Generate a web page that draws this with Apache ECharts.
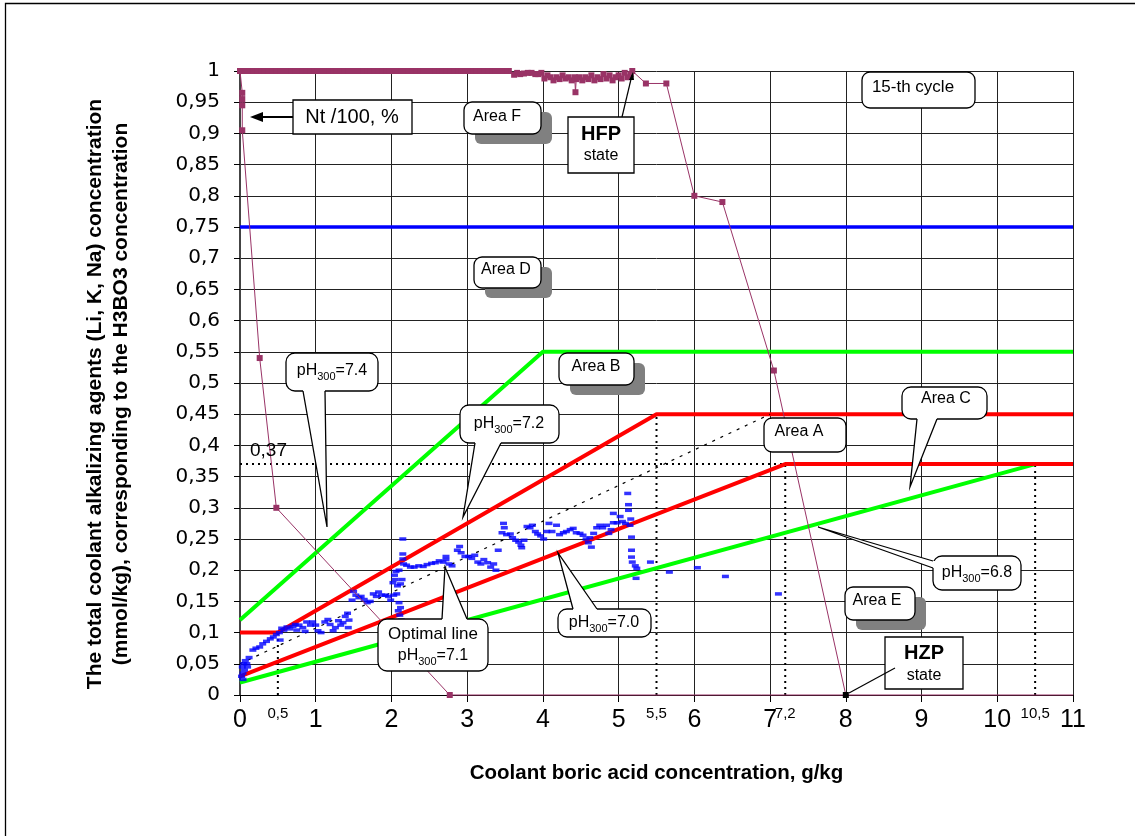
<!DOCTYPE html>
<html><head><meta charset="utf-8">
<script src="https://cdn.jsdelivr.net/npm/echarts@6/dist/echarts.min.js"></script>
<style>html,body{margin:0;padding:0;background:#fff}#c{width:1135px;height:836px}</style>
</head><body><div id="c"></div>
<script>
// ---------- data ----------
const extraXTicks = [0.5, 5.5, 7.2, 10.5];
const ph74 = [[0, 0.12], [4, 0.55], [11, 0.55]];
const ph72 = [[0, 0.10], [0.5, 0.10], [5.5, 0.45], [11, 0.45]];
const ph70 = [[0, 0.03], [7.2, 0.37], [11, 0.37]];
const ph68 = [[0, 0.02], [10.5, 0.37]];
const optimal71 = [[0, 0.05], [7, 0.45]];
const limit075 = [[0, 0.75], [11, 0.75]];
const guide037 = [[0, 0.37], [10.5, 0.37]];
const guideX05 = [[0.5, 0], [0.5, 0.10]];
const guideX55 = [[5.5, 0], [5.5, 0.45]];
const guideX72 = [[7.2, 0], [7.2, 0.37]];
const guideX105 = [[10.5, 0], [10.5, 0.37]];

const ntPower = [
  [8, 0], [7.05, 0.52], [6.37, 0.79], [6.0, 0.80], [5.63, 0.98], [5.36, 0.98], [5.18, 1.0],
  [5.16, 0.995], [5.12, 0.99], [5.08, 0.997], [5.04, 0.988], [5.0, 0.993], [4.96, 0.99], [4.92, 0.985],
  [4.88, 0.993], [4.84, 0.988], [4.8, 0.995], [4.76, 0.987], [4.72, 0.99], [4.68, 0.985], [4.64, 0.993],
  [4.6, 0.987], [4.56, 0.99], [4.52, 0.985], [4.48, 0.99], [4.44, 0.987], [4.43, 0.966], [4.42, 0.99],
  [4.38, 0.985], [4.34, 0.99], [4.3, 0.988], [4.26, 0.993], [4.22, 0.987], [4.18, 0.99], [4.14, 0.985],
  [4.1, 0.99], [4.06, 0.993], [4.02, 0.988], [3.98, 0.997], [3.94, 0.995], [3.9, 0.995], [3.85, 0.997],
  [3.8, 0.997], [3.75, 0.996], [3.7, 0.995], [3.66, 0.997], [3.62, 0.994], [3.55, 1.0], [3.5, 1.0],
  [3.45, 1.0], [3.4, 1.0], [3.35, 1.0], [3.3, 1.0], [3.25, 1.0], [3.2, 1.0], [3.15, 1.0], [3.1, 1.0],
  [3.05, 1.0], [3.0, 1.0], [2.95, 1.0], [2.9, 1.0], [2.85, 1.0], [2.8, 1.0], [2.75, 1.0], [2.7, 1.0],
  [2.65, 1.0], [2.6, 1.0], [2.55, 1.0], [2.5, 1.0], [2.45, 1.0], [2.4, 1.0], [2.35, 1.0], [2.3, 1.0],
  [2.25, 1.0], [2.2, 1.0], [2.15, 1.0], [2.1, 1.0], [2.05, 1.0], [2.0, 1.0], [1.95, 1.0], [1.9, 1.0],
  [1.85, 1.0], [1.8, 1.0], [1.75, 1.0], [1.7, 1.0], [1.65, 1.0], [1.6, 1.0], [1.55, 1.0], [1.5, 1.0],
  [1.45, 1.0], [1.4, 1.0], [1.35, 1.0], [1.3, 1.0], [1.25, 1.0], [1.2, 1.0], [1.15, 1.0], [1.1, 1.0],
  [1.05, 1.0], [1.0, 1.0], [0.95, 1.0], [0.9, 1.0], [0.85, 1.0], [0.8, 1.0], [0.75, 1.0], [0.7, 1.0],
  [0.65, 1.0], [0.6, 1.0], [0.55, 1.0], [0.5, 1.0], [0.45, 1.0], [0.4, 1.0], [0.35, 1.0], [0.3, 1.0],
  [0.25, 1.0], [0.2, 1.0], [0.15, 1.0], [0.1, 1.0], [0.05, 1.0], [0.0, 1.0], [0.03, 0.965], [0.03, 0.955],
  [0.03, 0.945], [0.03, 0.905], [0.26, 0.54], [0.48, 0.30], [2.77, 0], [11, 0]
];

const measured = [
  [0.02, 0.03], [0.03, 0.045], [0.04, 0.035], [0.05, 0.05], [0.06, 0.04], [0.07, 0.055], [0.09, 0.05],
  [0.10, 0.045], [0.12, 0.06], [0.04, 0.025],
  [0.17, 0.072], [0.21, 0.075], [0.26, 0.077], [0.30, 0.082], [0.35, 0.086], [0.40, 0.09], [0.44, 0.093],
  [0.48, 0.097], [0.52, 0.10], [0.53, 0.088], [0.55, 0.107], [0.58, 0.104], [0.62, 0.109], [0.66, 0.106],
  [0.70, 0.11], [0.73, 0.113], [0.75, 0.104], [0.78, 0.112], [0.83, 0.108], [0.86, 0.102], [0.88, 0.117],
  [0.93, 0.112], [0.96, 0.117], [1.0, 0.112], [1.03, 0.103], [1.07, 0.1],
  [1.12, 0.117], [1.16, 0.121], [1.19, 0.113], [1.23, 0.103], [1.26, 0.108], [1.30, 0.119], [1.33, 0.112],
  [1.36, 0.116], [1.39, 0.126], [1.42, 0.131], [1.44, 0.12], [1.43, 0.108],
  [1.48, 0.152], [1.50, 0.166], [1.53, 0.16], [1.57, 0.156], [1.60, 0.158], [1.64, 0.153], [1.68, 0.148],
  [1.72, 0.15], [1.76, 0.162], [1.80, 0.158], [1.83, 0.165], [1.87, 0.16], [1.92, 0.16], [1.96, 0.158],
  [1.99, 0.152], [2.03, 0.16], [2.07, 0.162],
  [2.02, 0.18], [2.05, 0.185], [2.04, 0.192], [2.08, 0.175], [2.12, 0.178], [2.14, 0.185], [2.06, 0.198],
  [2.1, 0.2], [2.09, 0.135], [2.11, 0.128], [2.12, 0.14], [2.13, 0.12], [2.1, 0.148],
  [2.15, 0.25], [2.15, 0.226], [2.15, 0.218], [2.16, 0.21],
  [2.20, 0.208], [2.25, 0.205], [2.30, 0.205], [2.36, 0.207], [2.42, 0.206], [2.47, 0.209], [2.53, 0.211],
  [2.58, 0.212], [2.63, 0.215], [2.68, 0.213], [2.72, 0.217], [2.76, 0.21], [2.80, 0.207], [2.72, 0.222],
  [2.87, 0.232], [2.90, 0.238], [2.92, 0.228], [2.97, 0.222], [3.02, 0.222], [3.06, 0.219], [3.10, 0.224],
  [3.14, 0.213], [3.18, 0.21], [3.22, 0.217], [3.27, 0.212], [3.31, 0.205], [3.35, 0.21], [3.38, 0.2],
  [3.41, 0.232],
  [3.46, 0.26], [3.48, 0.275], [3.49, 0.268], [3.52, 0.257], [3.57, 0.258], [3.60, 0.252], [3.64, 0.248],
  [3.68, 0.245], [3.71, 0.24], [3.72, 0.236], [3.75, 0.248], [3.79, 0.27], [3.83, 0.268], [3.86, 0.272],
  [3.90, 0.262], [3.93, 0.258], [3.97, 0.255], [4.01, 0.25], [4.05, 0.262], [4.08, 0.275], [4.12, 0.262],
  [4.18, 0.272], [4.22, 0.257], [4.27, 0.26], [4.31, 0.262], [4.36, 0.265], [4.40, 0.267], [4.44, 0.26],
  [4.49, 0.259], [4.53, 0.256], [4.57, 0.25], [4.60, 0.244], [4.62, 0.252], [4.64, 0.237], [4.67, 0.259],
  [4.71, 0.268], [4.75, 0.272], [4.79, 0.268], [4.84, 0.272], [4.87, 0.259], [4.90, 0.265], [4.93, 0.276],
  [4.93, 0.291], [4.98, 0.276], [5.02, 0.286], [5.05, 0.278], [5.09, 0.275], [5.13, 0.296], [5.13, 0.305],
  [5.12, 0.323], [5.15, 0.272], [5.16, 0.282],
  [5.17, 0.253], [5.17, 0.232], [5.17, 0.221], [5.18, 0.213], [5.22, 0.207], [5.24, 0.203], [5.23, 0.187],
  [5.42, 0.213], [5.67, 0.197], [6.04, 0.204], [6.41, 0.19], [7.11, 0.162]
];

// ---------- styling ----------
const FONT = "'Liberation Sans', Arial, sans-serif";
const comma = v => String(+(+v).toFixed(2)).replace('.', ',');

function refLine(data, color, width, type, z) {
  return { type: 'line', data, showSymbol: false, silent: true, z: z || 3,
    lineStyle: { color, width, type: type || 'solid' }, itemStyle: { color }, animation: false };
}

const series = [
  refLine(guide037, '#000', 2, [2, 4], 2),
  refLine(guideX05, '#000', 2, [2, 4], 2),
  refLine(guideX55, '#000', 2, [2, 4], 2),
  refLine(guideX72, '#000', 2, [2, 4], 2),
  refLine(guideX105, '#000', 2, [2, 4], 2),
  refLine(ph74, '#00FF00', 4),
  refLine(ph68, '#00FF00', 4),
  refLine(ph72, '#FF0000', 4),
  refLine(ph70, '#FF0000', 4),
  refLine(limit075, '#0000FF', 3.5),
  refLine(optimal71, '#000', 1.2, [3, 6], 4),
  { type: 'scatter', data: measured, symbol: 'rect', symbolSize: [7, 3.5], z: 5,
    itemStyle: { color: '#0000FF' }, animation: false, silent: true },
  { type: 'line', data: ntPower.map((p, i) => i === 0 ? { value: p, itemStyle: { color: '#000' } }
      : (i === ntPower.length - 1 ? { value: p, symbolSize: 0 } : p)),
    symbol: 'rect', symbolSize: 6, showAllSymbol: true, clip: false, z: 6, silent: true,
    lineStyle: { color: '#993366', width: 1 }, itemStyle: { color: '#993366' }, animation: false }
];

// ---------- annotations (pixel layout) ----------
const G = [];
function areaBox(x1, y1, x2, y2, label, tx, ty, shadow) {
  if (shadow) G.push({ type: 'rect', z: 100, shape: { x: x1 + 11, y: y1 + 10, width: x2 - x1, height: y2 - y1, r: 6 }, style: { fill: '#808080' } });
  G.push({ type: 'rect', z: 101, shape: { x: x1, y: y1, width: x2 - x1, height: y2 - y1, r: 8 }, style: { fill: '#fff', stroke: '#000', lineWidth: 1.3 } });
  G.push({ type: 'text', z: 103, x: tx, y: ty, style: { text: label, fontFamily: FONT, fontSize: 16, fill: '#000', align: 'center', verticalAlign: 'middle' } });
}
function callout(box, b1, b2, inward, tip) {
  G.push({ type: 'rect', z: 101, shape: { x: box[0], y: box[1], width: box[2] - box[0], height: box[3] - box[1], r: 9 }, style: { fill: '#fff', stroke: '#000', lineWidth: 1.3 } });
  const i1 = [b1[0] + inward[0] * 3, b1[1] + inward[1] * 3], i2 = [b2[0] + inward[0] * 3, b2[1] + inward[1] * 3];
  G.push({ type: 'polygon', z: 102, shape: { points: [b1, i1, i2, b2, tip] }, style: { fill: '#fff' } });
  G.push({ type: 'polyline', z: 102, shape: { points: [b1, tip, b2] }, style: { stroke: '#000', lineWidth: 1.3, fill: null } });
}
const phRich = {
  n: { fontFamily: FONT, fontSize: 16, lineHeight: 22, verticalAlign: 'middle', fill: '#000' },
  s: { fontFamily: FONT, fontSize: 11, lineHeight: 12, verticalAlign: 'bottom', fill: '#000' }
};
function phText(v, x, y) {
  G.push({ type: 'text', z: 103, x, y, style: { text: '{n|pH}{s|300}{n|=' + v + '}', rich: phRich, align: 'center', verticalAlign: 'middle' } });
}
function plainText(t, x, y, size, bold, align) {
  G.push({ type: 'text', z: 103, x, y, style: { text: t, fontFamily: FONT, fontSize: size, fontWeight: bold ? 'bold' : 'normal', fill: '#000', align: align || 'center', verticalAlign: 'middle' } });
}

// outer frame
G.push({ type: 'rect', z: 99, shape: { x: 5.5, y: 3.5, width: 1200, height: 900 }, style: { fill: null, stroke: '#000', lineWidth: 1.3 } });

// Nt /100, %
G.push({ type: 'rect', z: 101, shape: { x: 293, y: 100, width: 119, height: 34 }, style: { fill: '#fff', stroke: '#000', lineWidth: 1.3 } });
plainText('Nt /100, %', 352, 117, 20);
G.push({ type: 'line', z: 102, shape: { x1: 293, y1: 117, x2: 258, y2: 117 }, style: { stroke: '#000', lineWidth: 2 } });
G.push({ type: 'polygon', z: 102, shape: { points: [[250, 117], [263, 112], [263, 122]] }, style: { fill: '#000' } });

// HFP state
G.push({ type: 'line', z: 102, shape: { x1: 622, y1: 117, x2: 632, y2: 75 }, style: { stroke: '#000', lineWidth: 1.2 } });
G.push({ type: 'polygon', z: 102, shape: { points: [[633, 72], [629, 80], [634, 80]] }, style: { fill: '#000' } });
G.push({ type: 'rect', z: 101, shape: { x: 568, y: 117, width: 66, height: 56 }, style: { fill: '#fff', stroke: '#000', lineWidth: 1.3 } });
plainText('HFP', 601, 134, 20, true);
plainText('state', 601, 156, 16);

// HZP state
G.push({ type: 'line', z: 102, shape: { x1: 895, y1: 668, x2: 849, y2: 693 }, style: { stroke: '#000', lineWidth: 1.2 } });
G.push({ type: 'rect', z: 101, shape: { x: 885, y: 637, width: 78, height: 52 }, style: { fill: '#fff', stroke: '#000', lineWidth: 1.3 } });
plainText('HZP', 924, 653, 20, true);
plainText('state', 924, 676, 16);

// 15-th cycle
G.push({ type: 'rect', z: 101, shape: { x: 862, y: 72, width: 113, height: 36, r: 8 }, style: { fill: '#fff', stroke: '#000', lineWidth: 1.3 } });
plainText('15-th cycle', 913, 87, 17);

// Area boxes
areaBox(464, 102, 541, 134, 'Area F', 497, 117, true);
areaBox(474, 257, 541, 288, 'Area D', 506, 270, true);
areaBox(559, 353, 634, 385, 'Area B', 596, 367, true);
areaBox(845, 587, 915, 620, 'Area E', 877, 601, true);
areaBox(764, 418, 846, 452, 'Area A', 799, 432, false);

// callouts
callout([286, 353, 378, 391], [303, 391], [325, 391], [0, -1], [327, 527]);
phText('7.4', 332, 371);
callout([460, 405, 559, 443], [475, 443], [501, 443], [0, -1], [463, 517]);
phText('7.2', 509, 424);
callout([902, 387, 987, 419], [917, 419], [937, 419], [0, -1], [910, 487]);
plainText('Area C', 946, 399, 16);
callout([378, 619, 488, 671], [442, 619], [467, 619], [0, 1], [445, 567]);
plainText('Optimal line', 433, 634, 17);
phText('7.1', 433, 656);
callout([558, 609, 651, 637], [573, 609], [597, 609], [0, 1], [558, 553]);
phText('7.0', 604, 623);
callout([933, 556, 1021, 590], [933, 561], [933, 568], [1, 0], [818, 527]);
phText('6.8', 977, 573);

plainText('0,37', 250, 451, 19, false, 'left');

// ---------- chart ----------
const chart = echarts.init(document.getElementById('c'));
chart.setOption({
  animation: false,
  backgroundColor: '#fff',
  grid: { left: 240, right: 62, top: 71, bottom: 141, containLabel: false },
  xAxis: [{
    type: 'value', min: 0, max: 11, interval: 1,
    name: 'Coolant boric acid concentration, g/kg', nameLocation: 'middle', nameGap: 68,
    nameTextStyle: { fontFamily: FONT, fontWeight: 'bold', fontSize: 20.5, color: '#000' },
    axisLine: { onZero: false, lineStyle: { color: '#000', width: 1 } },
    axisTick: { show: true, length: 7, lineStyle: { color: '#000' } },
    axisLabel: { fontFamily: FONT, fontSize: 25, color: '#000', margin: 13, formatter: comma },
    splitLine: { show: true, lineStyle: { color: '#222', width: 1 } }
  }, {
    type: 'value', min: 0, max: 11, position: 'bottom',
    axisLine: { show: false }, axisTick: { show: false }, splitLine: { show: false },
    axisLabel: { customValues: extraXTicks, fontFamily: FONT, fontSize: 15, color: '#000', margin: 11, formatter: comma }
  }],
  yAxis: {
    type: 'value', min: 0, max: 1, interval: 0.05,
    name: 'The total coolant alkalizing agents (Li, K, Na) concentration\n(mmol/kg), corresponding to the H3BO3 concentration',
    nameLocation: 'middle', nameGap: 106, nameRotate: 90,
    nameTextStyle: { fontFamily: FONT, fontWeight: 'bold', fontSize: 21, color: '#000', lineHeight: 26, padding: [0, 22, 0, 0] },
    axisLine: { show: true, lineStyle: { color: '#444', width: 2 } },
    axisTick: { show: true, length: 6, lineStyle: { color: '#000' } },
    axisLabel: { fontFamily: "'DejaVu Sans', sans-serif", fontSize: 20, color: '#000', margin: 20, formatter: comma },
    splitLine: { show: true, lineStyle: { color: '#222', width: 1 } }
  },
  series,
  graphic: { elements: G }
});
</script></body></html>
